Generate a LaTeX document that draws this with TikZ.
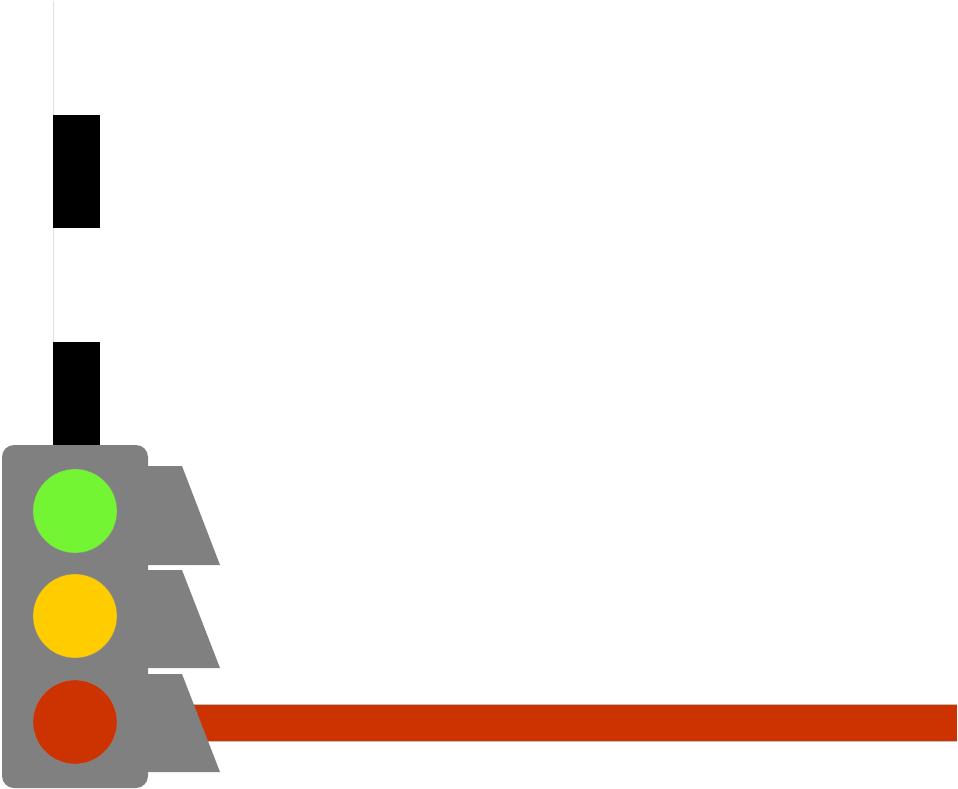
\documentclass[tikz,border=0pt]{standalone}
\usepackage{tikz}
\definecolor{boxgray}{HTML}{808080}
\definecolor{lampgreen}{HTML}{73F533}
\definecolor{lampyellow}{HTML}{FFCC00}
\definecolor{lampred}{HTML}{CC3300}
\tikzset{
  visor/.style={fill=boxgray, draw=none},
  lamp/.style={circle, minimum size=84pt, inner sep=0pt, draw=black!45, line width=0.3pt},
}
\begin{document}
\begin{tikzpicture}[x=1pt,y=-1pt]
\useasboundingbox (0,0) rectangle (958,789);
% red bar
\fill[lampred] (150,704) rectangle (957,741);
\draw[black!25, line width=0.5pt] (190,704) -- (957,704) (200,741) -- (957,741);
% pole
\fill[white] (53,1) rectangle (100,115);
\draw[black!12, line width=1pt] (53,1) -- (53,115);
\fill[black] (53,115) rectangle (100,228);
\fill[white] (53,228) rectangle (100,342);
\draw[black!12, line width=1pt] (53,228) -- (53,342);
\fill[black] (53,342) rectangle (100,450);
% visors
\fill[visor] (146,466) -- (182,466) -- (220,565) -- (146,565) -- cycle;
\fill[visor] (146,570) -- (182,570) -- (220,668) -- (146,668) -- cycle;
\fill[visor] (146,674) -- (182,674) -- (220,772) -- (146,772) -- cycle;
% housing
\fill[boxgray, rounded corners=12pt] (2,445) rectangle (148,788);
% lamps
\node[lamp, fill=lampgreen] (green) at (75,511) {};
\node[lamp, fill=lampyellow] (yellow) at (75,616) {};
\node[lamp, fill=lampred] (red) at (75,722) {};
\end{tikzpicture}
\end{document}
